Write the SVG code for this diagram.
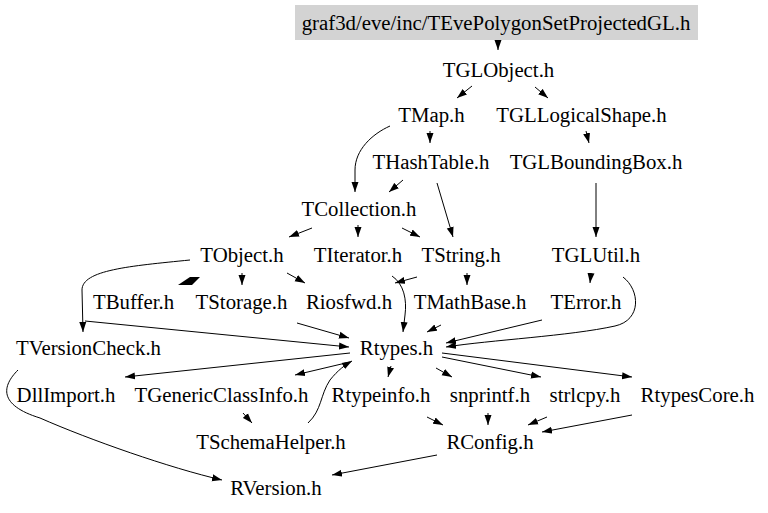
<svg xmlns="http://www.w3.org/2000/svg" width="768" height="513" viewBox="0 0 768 513">
<defs>
<style>
text{font-family:"Liberation Serif","Times New Roman",serif;font-size:20.8px;fill:#000;text-anchor:middle}
.e{fill:none;stroke:#000;stroke-width:1;marker-end:url(#a)}
</style>
<marker id="a" markerUnits="userSpaceOnUse" markerWidth="11" markerHeight="8" viewBox="0 -4 11 8" refX="10" refY="0" orient="auto"><path d="M0,-3.5L10,0L0,3.5z" fill="#000"/></marker>
</defs>
<rect width="768" height="513" fill="#fff"/>
<g id="connectors">
<path class="e" d="M498,40L498,50"/>
<path class="e" d="M472,86L457,98"/>
<path class="e" d="M535,87L548,98"/>
<path class="e" d="M390,126C372,134 355,150 355,170L355,192"/>
<path class="e" d="M430,131L430,143"/>
<path class="e" d="M586,131L589,143"/>
<path class="e" d="M403,180L389,192"/>
<path class="e" d="M437,183L453,237"/>
<path class="e" d="M596,183L596,237"/>
<path class="e" d="M312,228L289,237"/>
<path class="e" d="M358,225L358,237"/>
<path class="e" d="M402,228L420,237"/>
<path class="e" d="M190,260C130,266 82,270 82,290L83,332"/>
<polygon points="178,285 190,277 200,277 192,285" fill="#000"/>
<path class="e" d="M242,273L242,285"/>
<path class="e" d="M287,273L305,283"/>
<path class="e" d="M417,277L395,283"/>
<path class="e" d="M392,276C404,284 407,300 405,315L403,332"/>
<path class="e" d="M467,273L467,285"/>
<path class="e" d="M591,273L590,283"/>
<path class="e" d="M623,277C640,290 642,320 615,326C570,336 490,340 446,347"/>
<path class="e" d="M542,320L446,343"/>
<path class="e" d="M441,325L427,332"/>
<path class="e" d="M297,323L349,338"/>
<path class="e" d="M85,321L349,347"/>
<path class="e" d="M350,353L125,377"/>
<path class="e" d="M350,362L295,375"/>
<path class="e" d="M308,423C322,410 320,395 330,380C338,370 345,365 352,361"/>
<path class="e" d="M243,413L252,423"/>
<path class="e" d="M18,370C2,386 -2,405 40,418C90,440 170,468 222,480"/>
<path class="e" d="M437,455L332,475"/>
<path class="e" d="M391,366L388,377"/>
<path class="e" d="M436,368L452,377"/>
<path class="e" d="M442,357L541,377"/>
<path class="e" d="M442,353L632,377"/>
<path class="e" d="M427,417L443,425"/>
<path class="e" d="M488,413L488,425"/>
<path class="e" d="M547,417L528,425"/>
<path class="e" d="M632,415L542,432"/>
</g>
<g id="root"><rect x="295" y="5" width="403" height="35" fill="#d3d3d3"/><text x="496" y="30">graf3d/eve/inc/TEvePolygonSetProjectedGL.h</text></g>
<g id="TGLObject"><text x="498.5" y="76.5">TGLObject.h</text></g>
<g id="TMap"><text x="431.5" y="122">TMap.h</text></g>
<g id="TGLLogicalShape"><text x="581.5" y="122">TGLLogicalShape.h</text></g>
<g id="THashTable"><text x="431" y="169">THashTable.h</text></g>
<g id="TGLBoundingBox"><text x="596" y="169">TGLBoundingBox.h</text></g>
<g id="TCollection"><text x="359" y="215.5">TCollection.h</text></g>
<g id="TObject"><text x="242" y="262">TObject.h</text></g>
<g id="TIterator"><text x="358" y="262">TIterator.h</text></g>
<g id="TString"><text x="461" y="262">TString.h</text></g>
<g id="TGLUtil"><text x="596" y="262">TGLUtil.h</text></g>
<g id="TBuffer"><text x="133.5" y="308.5">TBuffer.h</text></g>
<g id="TStorage"><text x="241.5" y="308.5">TStorage.h</text></g>
<g id="Riosfwd"><text x="349" y="308.5">Riosfwd.h</text></g>
<g id="TMathBase"><text x="470" y="308.5">TMathBase.h</text></g>
<g id="TError"><text x="586" y="308.5">TError.h</text></g>
<g id="TVersionCheck"><text x="88.5" y="355">TVersionCheck.h</text></g>
<g id="Rtypes"><text x="396.5" y="355">Rtypes.h</text></g>
<g id="DllImport"><text x="66" y="402">DllImport.h</text></g>
<g id="TGenericClassInfo"><text x="221.5" y="402">TGenericClassInfo.h</text></g>
<g id="Rtypeinfo"><text x="381" y="402">Rtypeinfo.h</text></g>
<g id="snprintf"><text x="490" y="402">snprintf.h</text></g>
<g id="strlcpy"><text x="585" y="402">strlcpy.h</text></g>
<g id="RtypesCore"><text x="697.5" y="402">RtypesCore.h</text></g>
<g id="TSchemaHelper"><text x="271" y="448.5">TSchemaHelper.h</text></g>
<g id="RConfig"><text x="490" y="448.5">RConfig.h</text></g>
<g id="RVersion"><text x="276" y="495">RVersion.h</text></g>
</svg>
